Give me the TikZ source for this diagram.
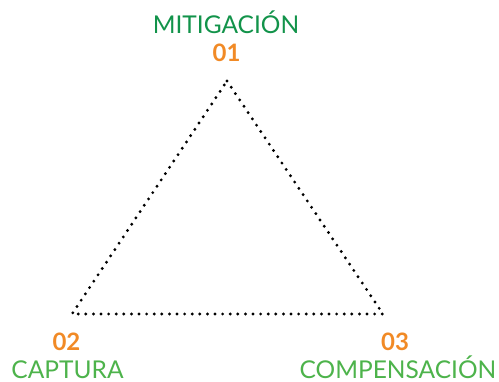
\documentclass[tikz,border=0pt]{standalone}
\usepackage{fontspec}
\setmainfont{Lato}
\usetikzlibrary{positioning}

\definecolor{darkgreen}{HTML}{12934A}
\definecolor{lightgreen}{HTML}{4DB34B}
\definecolor{numorange}{HTML}{F18A26}

\begin{document}
\begin{tikzpicture}[
            x = 1pt, y = -1pt, % pixel grid of the reference
            inner sep = 0pt,
            font = \fontsize{24.5}{24.5}\selectfont
        ]

        \tikzstyle{edge}=[
            draw = black,
            line width = 3.2pt,
            line cap = round,
            dash pattern = on 0pt off 7.6pt
        ]
        \tikzstyle{title}=[anchor = base]
        \tikzstyle{number}=[anchor = base, text = numorange, font = \fontsize{24}{24}\selectfont\bfseries]

        \useasboundingbox (0,0) rectangle (499,382);

        % corners of the triangle
        \coordinate (top) at (227,81);
        \coordinate (left) at (72,314);
        \coordinate (right) at (383,314);

        \node[title, text = darkgreen] (mit) at (226,34) {MITIGACIÓN};
        \node[number] (n1) at (226.5,62) {01};
        \node[number] (n2) at (66.5,351) {02};
        \node[title, text = lightgreen] (cap) at (67.5,378.5) {CAPTURA};
        \node[number] (n3) at (395,351) {03};
        \node[title, text = lightgreen] (comp) at (398,378.5) {COMPENSACIÓN};

        \draw[edge] (top) -- (right) -- (left) -- cycle;
    \end{tikzpicture}
\end{document}
